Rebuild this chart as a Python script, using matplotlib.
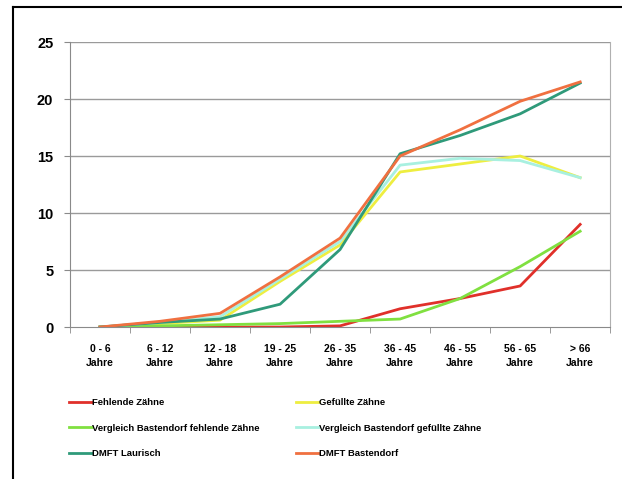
import matplotlib
matplotlib.use("Agg")
import matplotlib.pyplot as plt
from matplotlib.lines import Line2D

categories = ["0 - 6\nJahre", "6 - 12\nJahre", "12 - 18\nJahre", "19 - 25\nJahre", "26 - 35\nJahre",
              "36 - 45\nJahre", "46 - 55\nJahre", "56 - 65\nJahre", "> 66\nJahre"]
fehlende = [0.0, 0.0, 0.0, 0.0, 0.1, 1.6, 2.5, 3.6, 9.0]
gefuellte = [0.0, 0.3, 0.6, 4.0, 7.2, 13.6, 14.3, 15.0, 13.1]
vgl_fehlende = [0.0, 0.1, 0.2, 0.3, 0.5, 0.7, 2.5, 5.3, 8.4]
vgl_gefuellte = [0.0, 0.4, 0.9, 4.2, 7.5, 14.2, 14.8, 14.6, 13.1]
dmft_laurisch = [0.0, 0.4, 0.7, 2.0, 6.8, 15.2, 16.8, 18.7, 21.4]
dmft_bastendorf = [0.0, 0.5, 1.2, 4.4, 7.8, 15.0, 17.3, 19.8, 21.5]

series = [
    ("Fehlende Zähne", fehlende, "#e0302a"),
    ("Gefüllte Zähne", gefuellte, "#eeee40"),
    ("Vergleich Bastendorf fehlende Zähne", vgl_fehlende, "#80e040"),
    ("Vergleich Bastendorf gefüllte Zähne", vgl_gefuellte, "#a8f0e0"),
    ("DMFT Laurisch", dmft_laurisch, "#2f9a7a"),
    ("DMFT Bastendorf", dmft_bastendorf, "#f07040"),
]

plt.rcParams['font.family'] = ['Liberation Sans', 'DejaVu Sans']
fig = plt.figure(figsize=(6.22, 4.79), dpi=100)
ax = fig.add_axes([0.1125, 0.3173, 0.8685, 0.595])

x = list(range(len(categories)))
for name, vals, col in series:
    ax.plot(x, vals, color=col, lw=2.0, label=name, solid_joinstyle='round')

ax.set_xlim(-0.5, len(categories) - 0.5)
ax.set_ylim(0, 25)
ax.set_yticks([0, 5, 10, 15, 20, 25])
for y in [5, 10, 15, 20, 25]:
    ax.axhline(y, color="#9a9a9a", lw=1.0, zorder=0)
for s in ["top", "bottom"]:
    ax.spines[s].set_visible(False)
ax.spines["left"].set_color("#8a8a8a")
ax.spines["right"].set_color("#b0b0b0")
ax.spines["bottom"].set_visible(True)
ax.spines["bottom"].set_color("#8a8a8a")
ax.set_xticks(x)
ax.set_xticklabels(categories, fontsize=7.5, fontweight='bold', linespacing=1.5)
ax.tick_params(axis='x', length=0, pad=12)
ax.set_xticks([i + 0.5 for i in range(-1, len(categories))], minor=True)
ax.tick_params(axis='x', which='minor', length=4, color="#8a8a8a")
ax.tick_params(axis='y', length=4, color="#8a8a8a", labelsize=10.5, pad=8)
for lab in ax.get_yticklabels():
    lab.set_fontweight('bold')

handles = [Line2D([0], [0], color=c, lw=2) for _, _, c in series]
labels = [n for n, _, _ in series]
order = [0, 2, 4, 1, 3, 5]
leg = fig.legend([handles[i] for i in order], [labels[i] for i in order], ncol=2,
                 loc='upper left', bbox_to_anchor=(0.105, 0.177), frameon=False,
                 prop={'size': 6.8, 'weight': 'bold'}, handlelength=2.4, handletextpad=0.0,
                 columnspacing=3.9, labelspacing=1.75, borderaxespad=0)

fig.add_artist(Line2D([13 / 622, 13 / 622], [0, 1 - 7 / 479], color='black', lw=1.5))
fig.add_artist(Line2D([13 / 622, 1], [1 - 7 / 479, 1 - 7 / 479], color='black', lw=1.5))

fig.savefig("out.png", dpi=100)
